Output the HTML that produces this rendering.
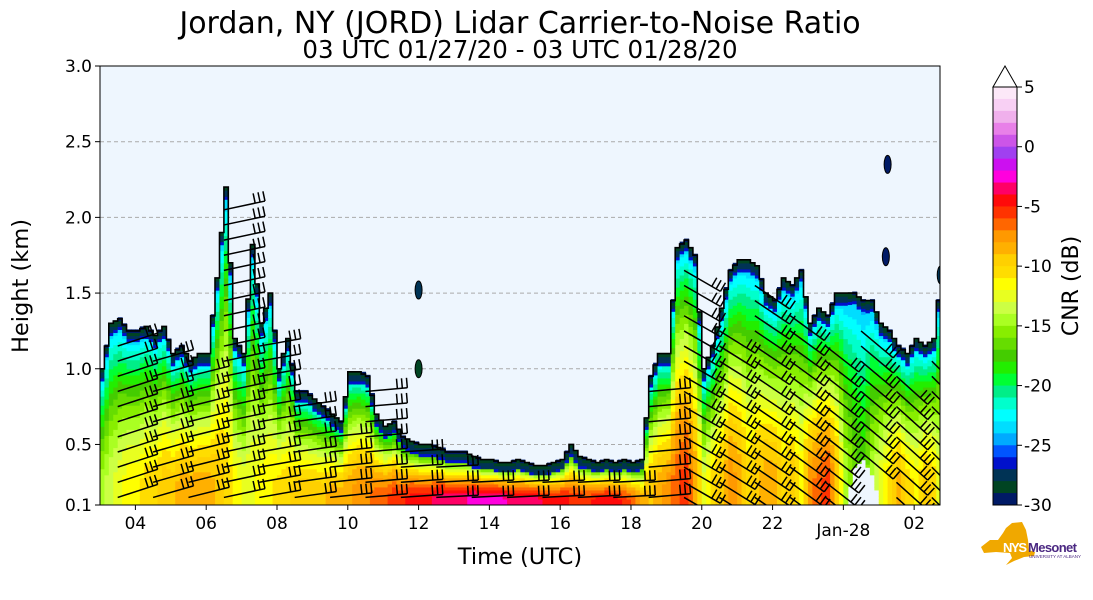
<!DOCTYPE html>
<html><head><meta charset="utf-8">
<style>
body{margin:0;background:#fff;}
svg{display:block;font-family:"Liberation Sans","DejaVu Sans",sans-serif;}
</style></head>
<body>
<svg id="chart" width="1093" height="600" viewBox="0 0 1093 600" xmlns="http://www.w3.org/2000/svg">
<text x="520" y="33" font-size="30" text-anchor="middle" fill="#000" font-family="DejaVu Sans, sans-serif">Jordan, NY (JORD) Lidar Carrier-to-Noise Ratio</text>
<text x="520" y="58" font-size="24.5" text-anchor="middle" fill="#000" font-family="DejaVu Sans, sans-serif">03 UTC 01/27/20 - 03 UTC 01/28/20</text>
<defs><clipPath id="plotclip"><rect x="100" y="66" width="840" height="439"/></clipPath></defs>
<rect x="100" y="66" width="840" height="439" fill="#eef6fe"/>
<g id="grid"></g>
<g id="field" clip-path="url(#plotclip)"></g>
<g id="barbs" clip-path="url(#plotclip)"></g>
<rect x="100" y="66" width="840" height="439" fill="none" stroke="#000" stroke-width="1"/>
<g id="axes" font-family="DejaVu Sans, sans-serif"></g>
<text x="520" y="564" font-size="22.5" text-anchor="middle" font-family="DejaVu Sans, sans-serif">Time (UTC)</text>
<text transform="translate(28,286) rotate(-90)" font-size="22.5" text-anchor="middle" font-family="DejaVu Sans, sans-serif">Height (km)</text>
<g id="colorbar" font-family="DejaVu Sans, sans-serif"></g>
<text transform="translate(1078,286) rotate(-90)" font-size="22" text-anchor="middle" font-family="DejaVu Sans, sans-serif">CNR (dB)</text>
<g>
<polygon points="981,547 990,540 998,540 1003,533 1006,528 1012,523 1022,522 1026,530 1028,540 1029,550 1035,552 1034,556 1024,557 1014,561 1006,565 1012,558 1010,553 996,552 984,553" fill="#f0a800"/>
<text x="1003" y="552" font-size="13" font-weight="bold" fill="#fff" font-family="Liberation Sans, sans-serif" textLength="24">NYS</text>
<text x="1028" y="552" font-size="13" font-weight="bold" fill="#4b2882" font-family="Liberation Sans, sans-serif" textLength="49">Mesonet</text>
<text x="1029" y="558" font-size="4.5" fill="#4b2882" font-family="Liberation Sans, sans-serif">UNIVERSITY AT ALBANY</text>
</g>
</svg>
<script>
// ---- data (quarter-hour columns starting 03 UTC 01/27) ----
const hoursSinceStart = Array.from({length:96},(_,i)=>i*0.25);
const cloudTopKm = [1.0,1.3,1.33,1.25, 1.25,1.28,1.22,1.28, 1.1,1.15,1.05,1.1, 1.1,1.6,2.2,1.2, 1.1,1.82,1.3,1.5, 1.0,1.2,0.85,0.85,
 0.8,0.75,0.7,0.65, 0.98,0.98,0.95,0.7, 0.62,0.65,0.55,0.52, 0.5,0.5,0.48,0.45, 0.45,0.45,0.42,0.4, 0.4,0.38,0.38,0.4,
 0.38,0.36,0.36,0.38, 0.4,0.5,0.42,0.4, 0.38,0.4,0.38,0.4, 0.38,0.4,0.95,1.1, 1.1,1.8,1.85,1.75, 1.0,1.15,1.4,1.65,
 1.72,1.72,1.68,1.5, 1.45,1.6,1.55,1.65, 1.3,1.4,1.35,1.5, 1.5,1.5,1.45,1.45, 1.3,1.25,1.15,1.1, 1.2,1.15,1.2,1.7];
const cloudBaseKm = [0.1,0.1,0.1,0.1,0.1,0.1,0.1,0.1,0.1,0.1,0.1,0.1,0.1,0.1,0.1,0.1,0.1,0.1,0.1,0.1,0.1,0.1,0.1,0.1,
 0.1,0.1,0.1,0.1,0.1,0.1,0.1,0.1,0.1,0.1,0.1,0.1,0.1,0.1,0.1,0.1,0.1,0.1,0.1,0.1,0.1,0.1,0.1,0.1,
 0.1,0.1,0.1,0.1,0.1,0.1,0.1,0.1,0.1,0.1,0.1,0.1,0.1,0.1,0.1,0.1,0.1,0.1,0.1,0.1,0.1,0.1,0.1,0.1,
 0.1,0.1,0.1,0.1,0.1,0.1,0.1,0.1,0.1,0.1,0.1,0.1,0.1,0.35,0.4,0.3,0.1,0.1,0.1,0.1,0.1,0.1,0.1,0.1];
const surfaceCnr = [-14,-13,-12,-11, -11,-10,-10,-9, -9,-8,-8,-8, -8,-9,-10,-11, -12,-12,-11,-11, -10,-10,-9,-9,
 -9,-9,-8,-8, -8,-7,-7,-6, -6,-5,-5,-4, -4,-4,-3,-3, -3,-3,-2,-2, -2,-2,-3,-3,
 -3,-3,-4,-4, -4,-5,-5,-5, -4,-4,-4,-5, -6,-8,-9,-8, -7,-6,-5,-8, -12,-10,-9,-7,
 -8,-10,-9,-8, -8,-10,-9,-11, -7,-6,-5,-9, -14,-16,-17,-14, -12,-10,-8,-10, -11,-9,-10,-14];
const blobHours = [9.0, 9.0, 22.25, 22.2, 23.75];
const blobKm = [1.52, 1.0, 2.35, 1.74, 1.62];
const blobCnr = [-27, -28, -29, -29, -27];
const barbHours = [0.5,1.5,2.5,3.5,4.5,5.5,6.5,7.5,8.5,9.5,10.5,11.5,12.5,13.5,14.5,15.5,16.5,17.5,18.5,19.5,20.5,21.5,22.5,23.5];
const barbAngleDeg = [-18,-16,-14,-12,-10,-8,-6,-5,-4,-3,-3,-3,-3,-3,-3,-5,30,32,34,36,38,40,42,45];
const xTickHours = [1,3,5,7,9,11,13,15,17,19,21,23];
const xTickLabels = ["04","06","08","10","12","14","16","18","20","22","Jan-28","02"];
const yTicks = [0.1,0.5,1.0,1.5,2.0,2.5,3.0];
const yTickLabels = ["0.1","0.5","1.0","1.5","2.0","2.5","3.0"];
const cbarTicks = [5,0,-5,-10,-15,-20,-25,-30];
const cbarColors = ["#fce8f8","#f8d0f4","#f0b0ec","#e880e8","#cc55e8","#a040f0","#cc10f0","#ff00dd","#ff0066","#ff0a0a",
 "#ff3300","#ff6600","#ff9900","#ffb000","#ffd000","#ffdd00","#ffff00","#e8ff20","#ccff44","#aaff22",
 "#88ee00","#66dd00","#44cc00","#22ee00","#00ff33","#00ee88","#00ffcc","#00ffff","#00ddff","#00aaff",
 "#0055ff","#0011cc","#003355","#004422","#001a66"];

// ---- scales ----
const NS="http://www.w3.org/2000/svg";
const X0=100,X1=940,Y0=66,Y1=505, HMAX=23.73;
const xs=h=>X0+h*(X1-X0)/HMAX;
const ys=z=>Y1-(z-0.1)*(Y1-Y0)/2.9;
function colorFor(v){ let k=Math.floor(5-v); if(k<0)k=0; if(k>34)k=34; return cbarColors[k]; }
function mk(tag,attrs,parent){const e=document.createElementNS(NS,tag);for(const k in attrs)e.setAttribute(k,attrs[k]);parent.appendChild(e);return e;}

// grid
const grid=document.getElementById('grid');
[0.5,1.0,1.5,2.0,2.5].forEach(z=>{
  const l=mk('line',{x1:X0,x2:X1,y1:ys(z),y2:ys(z),stroke:'#aaa','stroke-dasharray':'4,3','stroke-width':1},grid);
  
  
});

// field
const field=document.getElementById('field');
const colW=(xs(0.25)-xs(0))/2, dz=0.02;
let topPts=[];
for(let i=0;i<hoursSinceStart.length;i++){
  for(let s=0;s<2;s++){
    const j=Math.min(i+1,hoursSinceStart.length-1), t=s*0.5;
    const top=cloudTopKm[i]*(1-t)+cloudTopKm[j]*t;
    const base=cloudBaseKm[i]*(1-t)+cloudBaseKm[j]*t;
    const sc=surfaceCnr[i]*(1-t)+surfaceCnr[j]*t;
    const x=xs(hoursSinceStart[i])+s*colW;
    topPts.push(x.toFixed(1)+','+ys(top).toFixed(1), (x+colW).toFixed(1)+','+ys(top).toFixed(1));
    for(let z=base; z<top; z+=dz){
      const f=(z-0.1)/(top-0.1);
      const dist=top-z;
      let v=sc+(-25-sc)*Math.pow(f,1.8);
      if(dist<0.08) v=-29.5+dist*40;
      const r=mk('rect',{x:x.toFixed(2),y:ys(z+dz).toFixed(2),width:(colW+0.6).toFixed(2),height:((Y1-Y0)/2.9*dz+0.6).toFixed(2),fill:colorFor(v)},field);
      
      
    }
  }
}
const outline=mk('polyline',{points:topPts.join(' '),fill:'none',stroke:'#000','stroke-width':1.6},field);


blobHours.forEach((h,k)=>{
  const e=mk('ellipse',{cx:xs(h),cy:ys(blobKm[k]),rx:3.5,ry:9,fill:colorFor(blobCnr[k]),stroke:'#000','stroke-width':1},field);
  
  
});

// barbs
const barbs=document.getElementById('barbs');
barbHours.forEach((h,k)=>{
  const idx=Math.min(Math.round(h/0.25),cloudTopKm.length-1);
  const top=cloudTopKm[idx];
  const a=barbAngleDeg[k]*Math.PI/180;
  for(let z=0.15; z<top-0.1; z+=0.1){
    if(z<cloudBaseKm[idx])continue;
    const x=xs(h), y=ys(z);
    const L=42, x2=x+L*Math.cos(a), y2=y+L*Math.sin(a);
    const g=mk('g',{stroke:'#000','stroke-width':1.5,fill:'none'},barbs);
    
    
    mk('line',{x1:x,y1:y,x2:x2,y2:y2},g);
    for(let b=0;b<3;b++){
      const bx=x2-b*5*Math.cos(a), by=y2-b*5*Math.sin(a);
      mk('line',{x1:bx,y1:by,x2:bx+10*Math.sin(a),y2:by-10*Math.cos(a)},g);
    }
  }
});

// axes
const axes=document.getElementById('axes');
xTickHours.forEach((h,k)=>{
  const x=xs(h);
  mk('line',{x1:x,x2:x,y1:Y1,y2:Y1+5,stroke:'#000'},axes);
  const t=mk('text',{x:x,y:xTickLabels[k]==='Jan-28'?536:529,'font-size':17,'text-anchor':'middle'},axes);
  t.textContent=xTickLabels[k];
  
  
});
yTicks.forEach((z,k)=>{
  const y=ys(z);
  mk('line',{x1:X0-5,x2:X0,y1:y,y2:y,stroke:'#000'},axes);
  const t=mk('text',{x:X0-8,y:y+6,'font-size':17,'text-anchor':'end'},axes);
  t.textContent=yTickLabels[k];
  
  
});

// colorbar
const cb=document.getElementById('colorbar');
const CX=993,CW=24,CT=87,CB=505;
const cys=v=>CB-(v+30)*(CB-CT)/35;
cbarColors.forEach((c,k)=>{
  const v=5-k;
  const r=mk('rect',{x:CX,y:cys(v),width:CW,height:(CB-CT)/35+0.5,fill:c},cb);
  
  
});
const tri=mk('polygon',{points:`${CX},${CT} ${CX+CW/2},66 ${CX+CW},${CT}`,fill:'#fff',stroke:'#000','stroke-width':1},cb);


mk('rect',{x:CX,y:CT,width:CW,height:CB-CT,fill:'none',stroke:'#000','stroke-width':1},cb);
cbarTicks.forEach(v=>{
  const y=cys(v);
  mk('line',{x1:CX+CW,x2:CX+CW+5,y1:y,y2:y,stroke:'#000'},cb);
  const t=mk('text',{x:CX+CW+7,y:y+6,'font-size':17},cb);
  t.textContent=String(v);
  
  
});
</script>
</body></html>
